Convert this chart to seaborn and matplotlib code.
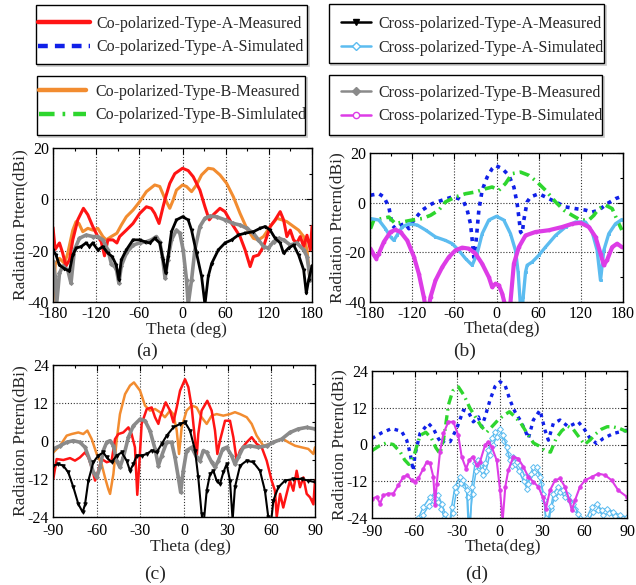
import matplotlib
matplotlib.use("Agg")
import matplotlib.pyplot as plt
import seaborn as sns
from matplotlib.ticker import MultipleLocator
from matplotlib.lines import Line2D
from matplotlib.patches import Rectangle

# ---------------- data : panel (a) ----------------
a_red_th = [-180, -177, -171, -166.5, -162, -157, -152.5, -145.6, -137.7, -131.6, -124.7, -117.7, -113, -108.4,
            -103.7, -96.7, -91.2, -87.4, -78.1, -68.8, -59.5, -50.2, -43.3, -38.6, -32.6, -27, -23.3, -17.7, -10.7,
            0, 7.9, 14.9, 24.2, 31.2, 37.2, 42.8, 52.1, 59.1, 68.4, 80, 87, 94, 98.6, 105.6, 112.6, 121.9, 128.8,
            135.8, 140.5, 145.1, 149.8, 154.4, 159, 163.7, 168.4, 173, 177.7, 180]
a_red_db = [-11, -19.5, -17, -21, -26, -23.5, -15.8, -8, -3.5, -6, -10.6, -14.5, -16.5, -22, -15.8, -15.8, -17,
            -14.5, -12, -9.4, -5.5, -2.9, -3.5, -5.5, -9.4, -2.9, 1, 6.2, 10, 12.1, 11.2, 8.8, 3.6, -2.9, -8, -6,
            -3.5, -4.8, -9.4, -14.5, -19.7, -26.2, -22.3, -21.7, -18.4, -10.6, -8, -4.8, -8, -14.5, -12, -15.8,
            -17, -14.5, -18.4, -14, -19.7, -10.6]

a_orange_th = [-180, -178, -176.7, -171, -164, -159.5, -152.5, -148, -144, -138.6, -131.6, -124.7, -117.7, -110.7,
               -106, -99, -91.2, -85, -78.1, -68.8, -59.5, -50.2, -38.6, -31.6, -24.6, -17.7, -13, -8.4, 0, 5.6,
               12.6, 19.5, 26.5, 35.8, 42.8, 52.1, 61.4, 70.7, 80, 89.3, 98.6, 105.6, 112.6, 121.9, 131.2, 138.1,
               145.1, 154.4, 161.4, 168.4, 173, 176.7, 180]
a_orange_db = [-40, -30, -25, -23, -25, -21, -12, -8.7, -9.4, -12.6, -11.3, -12, -11.3, -14.5, -15.8, -14.5, -13.2,
               -10, -6.8, -4.2, -0.9, 3, 5.6, 5, 0.4, -3.5, -0.3, 3.6, 5.6, 5, 3, 5.6, 9.5, 12.1, 11.8, 9.5, 6.2,
               1, -5.5, -11.3, -15.2, -15.8, -14.5, -10.6, -7.4, -8, -8.7, -10.6, -12, -14.5, -19.7, -30, -26]

a_black_th = [-180, -175.8, -171.2, -164.2, -157.2, -152.6, -147.9, -140.9, -134, -129.3, -124.7, -117.7, -110.7,
              -103.7, -97.7, -92.1, -88.4, -85.1, -78.1, -68.8, -59.5, -52.6, -45.6, -38.6, -31.6, -27, -23.3, -20,
              -15.3, -8.4, 0, 7.9, 12.6, 19.5, 26.5, 31.2, 35.8, 40.5, 49.8, 59.1, 68.4, 77.7, 87, 98.6, 107.9,
              114.9, 121.9, 128.8, 135.8, 140.5, 147.4, 154.4, 161.4, 168.4, 172.1, 175.3, 180]
a_black_db = [-19.7, -21.7, -25.6, -27, -28, -21.7, -19, -18.4, -17, -18.4, -17, -19.7, -18.4, -21, -22.3, -25.6,
              -31.4, -23.6, -19.7, -15.8, -15.8, -16.5, -17, -15.2, -17, -23.6, -28.8, -22.3, -12.6, -8, -6.8, -8,
              -12, -21, -30, -41, -30, -25, -19.7, -17, -15.8, -13.9, -13.2, -12.6, -11.3, -10.6, -12, -15.2, -17,
              -21, -19, -17.8, -21.7, -27.5, -36.6, -31.4, -26]

a_gray_th = [-180, -177, -175, -171, -166.5, -159.5, -155, -150.2, -143.3, -134, -124.7, -117.7, -110.7, -103.7,
             -99, -92.1, -88.4, -85.1, -78.1, -68.8, -59.5, -50.2, -43.3, -36.3, -31.6, -27.9, -24.2, -20.5, -15.3,
             -8.4, -3.7, 0.9, 5.6, 7.9, 12.6, 17.2, 24.2, 31.2, 38.1, 47.4, 59.1, 70.7, 80, 89.3, 98.6, 105.6,
             112.6, 119.5, 126.5, 133.5, 140.5, 149.8, 159.1, 168.4, 173, 177.7, 180]
a_gray_db = [-24, -30, -41, -28.8, -26, -27.5, -32.7, -19.7, -15.2, -13.9, -14.5, -14.5, -15.8, -19.7, -25, -27,
             -32.7, -26, -21, -17.8, -17, -16.5, -15.8, -14.5, -16.5, -22.3, -30.8, -23.6, -15.8, -12, -13.2, -19.7,
             -31.4, -41, -31.4, -19.7, -10.6, -7.4, -6.5, -6.8, -8, -9.4, -10, -11.3, -13.2, -15.8, -18.4, -19,
             -16.5, -15.2, -15.8, -17.8, -17, -19.7, -22.3, -31.4, -26]

# ---------------- data : panel (b) ----------------
b_blue_th = [-179.3, -167.4, -160.3, -153.2, -148.5, -143.7, -136.6, -129.5, -124.7, -117.6, -105.8, -91.5, -77.3,
             -63.1, -53.6, -46.5, -41.7, -37, -34.6, -32.3, -28.9, -25.1, -20.4, -13.3, -6.2, -1.4, 8.1, 17.5,
             24.7, 29.4, 31.8, 34.2, 36.5, 38.9, 43.6, 48.4, 60.2, 69.7, 84, 98.2, 112.4, 126.6, 136.1, 145.6,
             157.5, 169.3, 175]
b_blue_db = [3, 3.6, 2.3, -1.7, -9, -10.5, -9, -8.5, -10.5, -7, -3, -0.4, 1, 2.3, 1.6, 0.3, -3, -8.5, -15, -22,
             -15, -3, 5, 10.3, 13.7, 15, 13.7, 11, 6.3, -0.4, -5.8, -11.8, -12.5, -7, 0.3, 2.3, 3.6, 2.3, 0.3,
             -1.7, -2.4, -3, -3.8, -3, -0.4, 1.6, 2.2]

b_green_th = [-179.3, -174.6, -162.7, -153.2, -143.7, -134.2, -120, -105.8, -93.9, -82.1, -72.6, -58.3, -44.1,
              -29.9, -15.7, -6.2, 3.3, 12.8, 22.3, 34.2, 46, 57.9, 69.7, 84, 95.8, 107.7, 119.5, 131.4, 138.5,
              145.6, 155.1, 164.6, 171.7, 178.3]
b_green_db = [-10.5, -7, -6.4, -5.8, -8.5, -7.8, -7, -6.4, -5.1, -3, 0.3, 2.3, 3.6, 4.3, 5.6, 6.3, 5, 7.7, 11.7,
              12.3, 11, 8.3, 5, 0.3, -3, -5.1, -7, -7, -5.1, -2.4, -1, -2.4, -7, -11]

b_cyan_th = [-179.3, -167.4, -158, -150.8, -146.1, -141.3, -134.2, -124.7, -112.9, -101, -86.8, -72.6, -63.1, -53.6,
             -44.1, -34.6, -27.5, -20.4, -10.9, 0, 10.4, 19.9, 27, 30.8, 33.7, 35.6, 38, 41.3, 43.6, 50.8, 60.2,
             69.7, 84, 98.2, 112.4, 126.6, 136.1, 143.2, 148, 152.7, 159.8, 169.3, 178.3]
b_cyan_db = [-6.4, -7, -10.5, -13.8, -15.2, -13, -9.8, -8.5, -9, -11, -13.8, -15.2, -16.5, -19.2, -22.5, -25.2,
             -20.5, -12.5, -7, -5.5, -7, -12.5, -19.2, -28, -40, -46, -38, -28, -25.2, -23.9, -21.2, -17.9, -13.2,
             -9.8, -7.8, -7.8, -11.8, -19.2, -31.3, -19.2, -12.5, -8.5, -6.8]

b_mag_th = [-179.3, -174.6, -171.2, -167.4, -160.3, -150.8, -143.7, -136.6, -127.1, -117.6, -110.5, -103.4, -98.7,
            -93.9, -86.8, -77.3, -67.8, -58.3, -48.9, -39.4, -29.9, -20.4, -10.9, -6.2, -1.4, 3.3, 8.1, 12.8, 16.6,
            19.9, 24.7, 31.8, 41.3, 55.5, 74.5, 93.4, 107.7, 119.5, 131.4, 140.9, 148, 152.7, 157.5, 164.6, 171.7,
            178.3]
b_mag_db = [-18.5, -21, -22.5, -20.5, -15.8, -11.8, -10.9, -11.8, -15.2, -21.7, -28.6, -38, -46, -38, -31.3, -26,
            -21.9, -19.2, -18.1, -18.5, -20.5, -24.6, -30, -34, -32.6, -33.3, -36.6, -42, -46, -40, -24.6, -17.9,
            -13.2, -11.8, -11.1, -9.8, -8.5, -8.1, -9.8, -13.8, -20.5, -25.2, -23, -17.9, -16.5, -17.9]

# ---------------- data : panel (c) ----------------
c_red_th = [-89.8, -87.5, -82.9, -78.3, -74.9, -71.5, -68, -65.7, -63.4, -61.1, -58.9, -56.6, -53.1, -49.7, -47.4,
            -45.1, -41.7, -38.2, -36, -33.7, -32.1, -30.7, -29.1, -25.6, -22.2, -19.9, -17.6, -16.5, -12.6, -9.6,
            -7.3, -5, -2.7, 0.7, 3, 5.3, 7.6, 8.7, 9.8, 12.1, 16, 19, 21.3, 22.9, 24.7, 28.2, 31.6, 33.9, 36.2,
            38.5, 43.1, 46.5, 49.9, 53.4, 56.8, 60.2, 62.5, 63.7, 66, 68.2, 70.5, 72.8, 75.1, 77.4, 79.7, 82, 84.3,
            86.6, 88.9, 90]
c_red_db = [-12, -5.7, -6, -5.4, -6.2, -5.2, -3.6, -5.2, -8.3, -12.5, -9.4, -5.7, -6.7, -6.2, 0.6, 2.2, 2.7, 4.3,
            2.2, -2, -17, -7.3, 5.4, 10.1, 10.6, 7.5, 5.4, 7.5, 12.2, 9.6, 5.9, 10.6, 15.9, 19.5, 17, 10.6, 0.1,
            -5.2, 2.2, 9.6, 12.7, 9.6, 3.3, -4.1, 0.1, 6.4, 6.4, 1.2, -6.2, -3, -0.4, 1.2, -0.9, -2, -6.2, -12.5,
            -15.7, -24, -16.7, -21, -16.7, -12.5, -15.7, -9.4, -14.6, -11.5, -16.7, -17.8, -20, -12.5]

c_orange_th = [-89.8, -85.2, -80.6, -77.2, -72.6, -69.2, -66.4, -63.4, -60, -56.6, -54.3, -52, -50.8, -48.5, -46.3,
               -44, -40.5, -37.1, -34.4, -30.2, -26.8, -23.4, -19.9, -16.5, -13.1, -9.6, -7.3, -5, -3.4, -1.6, 1.8,
               5.3, 8.7, 12.1, 15.6, 19, 22.4, 27, 31.6, 35, 38.5, 43.1, 46.5, 49.9, 54.5, 59.1, 63.7, 68.2, 71.7,
               76.3, 80.8, 85.4, 88.9, 90]
c_orange_db = [-3.6, -1.5, 1.7, 2.2, 2.7, 2.2, 3.3, 0.6, -4.1, -7.3, -11.5, -15.2, -16.7, -10.4, 0.1, 8.5, 14.8,
               17.5, 18.5, 15.9, 11.2, 9.6, 10.1, 9.1, 7.5, 9.6, 8.5, 3.3, -4.1, 4.3, 9.6, 11.2, 10.6, 7.5, 5.4, 8,
               8.5, 8, 8.5, 9.1, 8.5, 7.5, 5.4, 1.7, -1.5, -0.9, 0.1, 0.6, -0.4, -1.5, -2, -2.5, -4.1, -2]

c_black_th = [-89.8, -86.3, -82.9, -79.5, -76, -72.6, -69.6, -68, -65.7, -62.3, -58.9, -55.4, -53.1, -49.7, -46.3,
              -42.8, -39.4, -37.1, -34.8, -32.5, -29.1, -25.6, -22.2, -18.8, -15.3, -11.9, -7.3, -2.7, 0.7, 4.1,
              7.6, 9.8, 12.1, 13.3, 15.6, 17.9, 20.2, 22.4, 24.7, 27, 29.3, 31.6, 33.4, 35, 38.5, 43.1, 47.6, 52.2,
              55.6, 57.9, 59.5, 61.4, 64.8, 69.4, 75.1, 80.8, 85.4, 90]
c_black_db = [-7.8, -7.3, -7.8, -9.9, -14.6, -19.9, -22.5, -20, -12.5, -6.7, -4.6, -3.6, -5.2, -6.7, -4.6, -3.6,
              -6.2, -9.4, -7.3, -4.6, -4.6, -4.1, -3, -3.6, -0.9, 1.7, 4.3, 5.4, 5.9, 3.3, -3, -11.5, -23, -27,
              -15.7, -10.4, -9.4, -12.5, -13.6, -9.9, -7.3, -12.5, -25, -14.6, -7.8, -6.2, -6.7, -9.4, -15.7, -24,
              -27, -18.8, -14.6, -12.5, -12, -12, -12.5, -13]

c_gray_th = [-89.8, -85.2, -80.6, -76, -71.5, -68, -64.6, -62.3, -60, -57.7, -55.4, -53.1, -50.8, -48.5, -46.3,
             -44, -41.7, -38.2, -34.8, -30.2, -26.8, -23.4, -19.9, -17.6, -15.3, -11.9, -8.5, -6.2, -3.9, -2.3,
             -0.5, 1.8, 5.3, 8.7, 11, 13.3, 15.6, 19, 21.3, 23.6, 26.6, 29.3, 32.7, 35, 37.3, 40.7, 45.3, 51.1,
             56.8, 61.4, 67.1, 72.8, 78.5, 84.3, 90]
c_gray_db = [-2.5, -1.5, -0.4, 0.1, -0.4, -2, -6.2, -9.9, -11.5, -8.3, -3, -0.4, 0.1, -1.5, -6.2, -8.3, -5.2, 1.2,
             4.8, 6.9, 6.4, 3.3, -2.5, -7.8, -4.6, -0.4, -0.4, -5.2, -11.5, -16.2, -9.4, -3, -2, -5.2, -6.2, -3,
             -3.6, -6.7, -8.3, -6.2, -2.5, -2, -4.6, -7.3, -5.2, -2, -1.5, -2, -1.5, -0.4, 0.6, 2.7, 3.8, 4.3, 3.8]

# ---------------- data : panel (d) ----------------
d_blue_th = [-90, -83.2, -76.1, -69.1, -65.5, -63, -61, -59.5, -56.1, -50.2, -46.7, -43.2, -40.8, -38.5, -34.9,
             -30.2, -25.5, -22, -18.5, -14.9, -12.6, -10.2, -6.7, -3.2, 0.4, 3.9, 7.4, 10.9, 14.5, 18, 20.4, 23.9,
             28.6, 32.1, 34.5, 38, 42.7, 48.6, 55.6, 60.3, 63.9, 68.6, 73.3, 80.4, 90]
d_blue_db = [2, 3.8, 5.2, 4.3, 1.4, -3, -8.5, -3, 3.6, 6.9, 5.2, 2, 0.3, 1.4, 0.9, 5.2, 11.2, 10.7, 7.4, 9, 5.8,
             9, 14.5, 18.9, 20.5, 19.4, 14.5, 10.7, 8, 4.7, 2, 8, 11.2, 4.7, 1.4, 6.9, 8, 5.8, 7.4, 4.7, 2, 0.3, 2,
             3.6, 4.7]

d_green_th = [-90, -85, -80, -75, -70, -67, -64, -60, -56, -52, -48, -45, -42, -39, -36, -33, -29, -25, -21, -17,
              -13, -9, -5, -1, 3, 7, 11, 15, 19, 24, 28, 32, 36, 40, 44, 48, 52, 56, 60, 64, 68, 72, 76, 80, 85, 90]
d_green_db = [-2, -0.5, 0.5, 0, -2.5, -5, -6.5, -3, 3, 4, 2, -1, -3, 3, 13, 17.5, 18.8, 16, 12, 9, 6, 4, 6, 8, 9.5,
              10.7, 9, 7, 4, 0.5, -0.5, -2, -2.5, 2, 4.5, 6, 5, 2.5, 0, 1.5, 3.5, 5, 5.8, 5.8, 5.2, 4.2]

d_cyan_th = [-60, -57.3, -53.8, -49, -45.5, -43.2, -40.8, -38.5, -37, -35.5, -33.8, -31.5, -27.9, -25.5, -23.2, -22,
             -20.5, -19.6, -17.3, -15, -12.6, -10.2, -7.9, -5.5, -3.2, 0, 2.7, 5, 7.4, 9.3, 12.1, 14.5, 18, 20.4,
             22, 23.9, 26.2, 28.6, 30.9, 32.8, 34.5, 36.5, 38, 41.5, 45, 48.6, 52.1, 55.6, 58, 61.5, 65.1, 68.6,
             72.1, 75.6, 80.4, 85.1, 90]
d_cyan_db = [-27, -24, -20.4, -17.1, -16, -16.6, -19.3, -22.6, -27, -27, -20.4, -13.8, -10.6, -11.7, -15, -27, -27,
             -13.8, -6.2, -5.1, -8.4, -6.2, -1.9, 2, 4.1, 4.9, 3, -0.8, -5.1, -4, -5.7, -6.8, -10.6, -12.8, -9.5,
             -7.3, -7.3, -10.6, -16, -24, -27, -20, -16, -13.8, -15, -16.6, -19.3, -22.6, -27, -24, -20.4, -19.3,
             -21.5, -20.9, -22, -23.1, -23.7]

d_cyan2_th = [-58, -54, -50, -46.5, -43.5, -41, -39, -37.5, -33, -30.5, -27, -24.5, -22.5, -21.5, -19, -16.5, -14,
              -12, -9.5, -7, -4.5, -2, 1, 3.5, 6, 8.5, 11, 13.5, 17, 19.5, 21.5, 24.5, 27.5, 29.5, 31.5, 33, 36,
              39, 42.5, 46, 49.5, 53, 56.5, 59, 62.5, 66, 69.5, 73, 77, 81.5, 86, 90]
d_cyan2_db = [-27, -23, -20, -18.5, -18.8, -21, -24, -27, -22.5, -15.5, -12.5, -13.5, -17, -27, -16, -8.5, -7, -10,
              -8.5, -3.5, 0, 2.5, 3, 1, -3, -7, -6.5, -8.5, -12, -14.5, -12, -9, -9.5, -13, -18, -27, -21, -17.5,
              -15.5, -17, -18.5, -21, -24, -27, -25.5, -22, -21.5, -23, -22.5, -23.5, -24.5, -25]

d_mag_th = [-90, -86.7, -84.3, -82, -78.4, -74.9, -71.4, -67.9, -65.1, -62, -59.7, -57.3, -53.8, -51.4, -49, -46.7,
            -45.5, -44.3, -42, -39.6, -36.1, -32.6, -29.1, -26.7, -23.6, -21.3, -19, -16.1, -13.8, -10.2, -7.9,
            -5.5, -2, 0.4, 2.2, 4.1, 6.2, 9.8, 13.3, 16.8, 20.4, 23.9, 27.4, 30.5, 32.8, 35.6, 39.2, 42.7, 46.2,
            49.3, 51, 53.3, 56.8, 60.3, 65.1, 69.8, 74.5, 79.2, 83.9, 90]
d_mag_db = [-17.7, -17.1, -19.3, -16.6, -16, -16, -13.3, -10.6, -10, -11.7, -12.2, -11.1, -7.9, -5.7, -6.2, -10.6,
            -19.8, -12.8, -2.4, 3.6, 7.4, 7.4, 3, -4, -7.9, -5.1, -4, -6.8, -5.7, -0.2, 0.9, -0.8, -5.1, -15, -25,
            -13.8, -8.4, -4, -4.6, -7.3, -10.6, -12.2, -13.8, -17.1, -20.9, -15, -11.7, -11.1, -13.8, -18.2, -21.5,
            -18.2, -13.8, -11.7, -10.6, -9.5, -10, -11.7, -15, -17.1]

legend1_labels = ["Co-polarized-Type-A-Measured", "Co-polarized-Type-A-Simulated"]
legend2_labels = ["Cross-polarized-Type-A-Measured", "Cross-polarized-Type-A-Simulated"]
legend3_labels = ["Co-polarized-Type-B-Measured", "Co-polarized-Type-B-Simlulated"]
legend4_labels = ["Cross-polarized-Type-B-Measured", "Cross-polarized-Type-B-Simulated"]
panel_letters = ["(a)", "(b)", "(c)", "(d)"]

# ---------------- style ----------------
sns.set_theme(style="white")
plt.rcParams["font.family"] = ["Liberation Serif", "DejaVu Serif"]
plt.rcParams["axes.unicode_minus"] = False

RED = "#ff1414"
BLUE = "#1020e8"
ORANGE = "#f28c30"
GREEN = "#2ed62e"
BLACK = "#000000"
CYAN = "#5cbcf0"
GRAY = "#8a8a8a"
MAG = "#dd3ce6"
DOT = (0, (1.1, 1.4))
DASHDOT = (0, (2.8, 1.4, 0.5, 1.4))

W, H = 636, 585
fig = plt.figure(figsize=(W / 100, H / 100), dpi=100)


def ax_at(x0, y0, x1, y1):
    return fig.add_axes([x0 / W, 1 - y1 / H, (x1 - x0) / W, (y1 - y0) / H])


def draw(ax, th, db, color, lw, ls="-", marker=None, ms=0, mfc=None):
    sns.lineplot(x=th, y=db, ax=ax, sort=False, estimator=None, legend=False, color=color,
                 linewidth=lw, linestyle=ls, marker=marker, markersize=ms,
                 markeredgecolor=color, markerfacecolor=mfc or color, markeredgewidth=0.7)


def style_axes(ax, wide, xlab, xlab_xy, ylab_x, xpad):
    if wide:
        ax.set_xlim(-180, 180)
        ax.set_ylim(-40, 20)
        ax.xaxis.set_major_locator(MultipleLocator(60))
        ax.xaxis.set_minor_locator(MultipleLocator(30))
        ax.yaxis.set_major_locator(MultipleLocator(20))
        ax.yaxis.set_minor_locator(MultipleLocator(10))
    else:
        ax.set_xlim(-90, 90)
        ax.set_ylim(-24, 24)
        ax.xaxis.set_major_locator(MultipleLocator(30))
        ax.xaxis.set_minor_locator(MultipleLocator(15))
        ax.yaxis.set_major_locator(MultipleLocator(12))
        ax.yaxis.set_minor_locator(MultipleLocator(6))
    ax.grid(True, which="major", color="#333333", linestyle=(0, (1, 1.6)), linewidth=0.8)
    ax.set_axisbelow(True)
    for s in ax.spines.values():
        s.set_color("black")
        s.set_linewidth(1.0)
    ax.tick_params(which="both", direction="in", top=True, right=True, colors="black", labelsize=11.5)
    ax.tick_params(axis="x", which="major", pad=xpad)
    ax.tick_params(axis="y", which="major", pad=3)
    ax.tick_params(which="major", length=4, width=0.8)
    ax.tick_params(which="minor", length=2.5, width=0.8)
    ax.set_xlabel(xlab, fontsize=12.5, va="center")
    ax.xaxis.set_label_coords(*xlab_xy)
    ax.set_ylabel("Radiation Pttern(dBi)", fontsize=12.5, va="center")
    ax.yaxis.set_label_coords(ylab_x, 0.5)


# panel (a)
axa = ax_at(53, 148, 312, 302)
draw(axa, a_orange_th, a_orange_db, ORANGE, 2.2)
draw(axa, a_red_th, a_red_db, RED, 2.2)
draw(axa, a_gray_th, a_gray_db, GRAY, 2.6, marker="D", ms=2)
draw(axa, a_black_th, a_black_db, BLACK, 2.0, marker="v", ms=2)
style_axes(axa, True, "Theta (deg)", (0.517, -0.182), -0.127, 3)

# panel (b)
axb = ax_at(370, 153, 623, 302)
draw(axb, b_blue_th, b_blue_db, BLUE, 2.6, ls=DOT)
draw(axb, b_green_th, b_green_db, GREEN, 2.6, ls=DASHDOT)
draw(axb, b_cyan_th, b_cyan_db, CYAN, 2.4, marker="s", ms=2)
draw(axb, b_mag_th, b_mag_db, MAG, 3.0, marker="o", ms=2)
style_axes(axb, True, "Theta(deg)", (0.522, -0.183), -0.128, 3)

# panel (c)
axc = ax_at(53, 365, 315, 517)
draw(axc, c_orange_th, c_orange_db, ORANGE, 1.8)
draw(axc, c_red_th, c_red_db, RED, 1.8)
draw(axc, c_gray_th, c_gray_db, GRAY, 2.6, marker="D", ms=2)
draw(axc, c_black_th, c_black_db, BLACK, 1.5, marker="v", ms=2.5)
style_axes(axc, False, "Theta (deg)", (0.523, -0.197), -0.126, 4)

# panel (d)
axd = ax_at(372, 371, 627, 518)
draw(axd, d_blue_th, d_blue_db, BLUE, 2.4, ls=DOT)
draw(axd, d_green_th, d_green_db, GREEN, 2.4, ls=DASHDOT)
draw(axd, d_cyan2_th, d_cyan2_db, CYAN, 1.1, marker="D", ms=3, mfc="white")
draw(axd, d_cyan_th, d_cyan_db, CYAN, 1.1, marker="D", ms=3, mfc="white")
draw(axd, d_mag_th, d_mag_db, MAG, 1.5, marker="o", ms=2.5)
style_axes(axd, False, "Theta(deg)", (0.514, -0.197), -0.128, 4)

# panel letters
for (px, py), lab in zip([(147, 351), (465, 351), (155, 574), (477, 574)], panel_letters):
    fig.text(px / W, 1 - py / H, lab, fontsize=14, ha="center", va="center")

# legend frames
for (x0, y0, x1, y1) in [(36, 5, 307, 64), (329, 4, 604, 63), (37, 76, 305, 135), (329, 75, 602, 135)]:
    fig.patches.append(Rectangle((x0 / W + 2 / W, 1 - (y1 + 2) / H), (x1 - x0) / W, (y1 - y0) / H,
                                 transform=fig.transFigure, facecolor="none", edgecolor="#c8c8c8",
                                 linewidth=1.2, zorder=1))
    fig.patches.append(Rectangle((x0 / W, 1 - y1 / H), (x1 - x0) / W, (y1 - y0) / H,
                                 transform=fig.transFigure, facecolor="white", edgecolor="black",
                                 linewidth=1.0, zorder=2))

h1 = [Line2D([], [], color=RED, lw=3.2), Line2D([], [], color=BLUE, lw=3.2, ls=(0, (2.2, 1.6)))]
h2 = [Line2D([], [], color=BLACK, lw=1.8, marker="v", ms=5, mfc=BLACK, mec=BLACK),
      Line2D([], [], color=CYAN, lw=1.8, marker="D", ms=4, mfc="white", mec=CYAN)]
h3 = [Line2D([], [], color=ORANGE, lw=3.2), Line2D([], [], color=GREEN, lw=3.2, ls=(0, (3.5, 1.8, 0.6, 1.8)))]
h4 = [Line2D([], [], color=GRAY, lw=1.8, marker="D", ms=4, mfc=GRAY, mec=GRAY),
      Line2D([], [], color=MAG, lw=1.8, marker="o", ms=4.5, mfc="white", mec=MAG)]

for handles, labels, (lx, ly), hl, hp in [
        (h1, legend1_labels, (38, 35.5), 3.25, 0.38),
        (h2, legend2_labels, (341, 36), 1.9, 0.42),
        (h3, legend3_labels, (39, 103.5), 2.95, 0.55),
        (h4, legend4_labels, (341, 104.5), 1.9, 0.42)]:
    lg = fig.legend(handles, labels, loc="center left", bbox_to_anchor=(lx / W, 1 - ly / H),
                    bbox_transform=fig.transFigure, frameon=False, fontsize=11.5, borderpad=0,
                    borderaxespad=0, handlelength=hl, handletextpad=hp, labelspacing=0.5)
    lg.set_zorder(5)

fig.savefig("out.png", dpi=100)
